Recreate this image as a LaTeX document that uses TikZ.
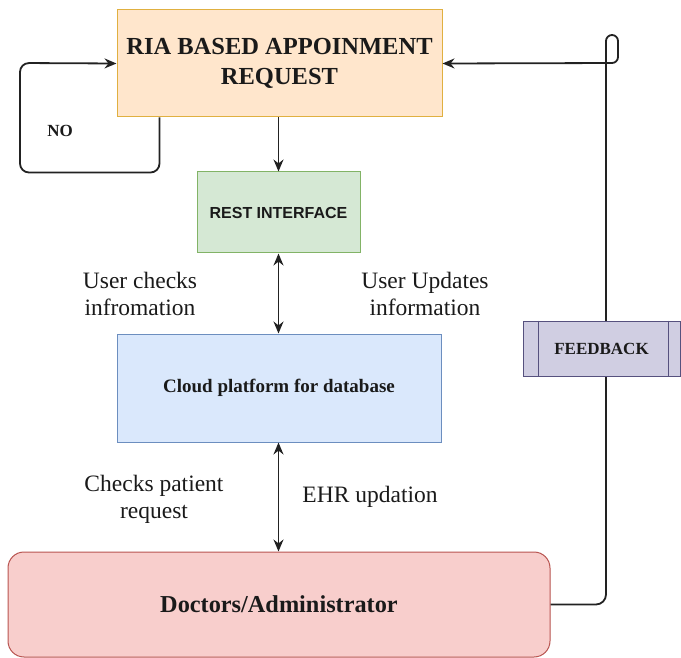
\documentclass[tikz,border=0pt]{standalone}
\usepackage{fontspec}
\setmainfont{Liberation Serif}
\newfontfamily\arialfont{Liberation Sans}
\usetikzlibrary{arrows.meta,calc}

\definecolor{riafill}{HTML}{FFE6CC}
\definecolor{riadraw}{HTML}{E0B040}
\definecolor{restfill}{HTML}{D5E8D4}
\definecolor{restdraw}{HTML}{82B366}
\definecolor{cloudfill}{HTML}{DAE8FC}
\definecolor{clouddraw}{HTML}{6C8EBF}
\definecolor{docfill}{HTML}{F8CECC}
\definecolor{docdraw}{HTML}{B85450}
\definecolor{fbfill}{HTML}{D0CEE2}
\definecolor{fbdraw}{HTML}{56517E}
\definecolor{wire}{HTML}{222222}
\definecolor{ink}{HTML}{1A1A1A}

\tikzset{
  x=1pt, y=-1pt,
  box/.style={draw, line width=1pt, inner sep=0pt, align=center, text=ink},
  wirestyle/.style={draw=wire, line width=1.8pt, -{Stealth[length=12pt,width=10pt]}},
  both/.style={draw=wire, line width=1.8pt, {Stealth[length=12pt,width=10pt]}-{Stealth[length=12pt,width=10pt]}},
  lbl/.style={text=ink, align=center, font=\fontsize{23.5}{27}\selectfont},
}

\begin{document}
\begin{tikzpicture}
\useasboundingbox (0,0) rectangle (681,658);

% boxes
\node[box, fill=riafill, draw=riadraw, minimum width=325pt, minimum height=107pt,
      font=\bfseries\fontsize{24.5}{30}\selectfont] (ria) at (279.5,63.5)
      {RIA BASED APPOINMENT\\REQUEST};
\node[box, fill=restfill, draw=restdraw, minimum width=163pt, minimum height=81pt,
      font=\arialfont\bfseries\fontsize{16}{19}\selectfont] (rest) at (278.5,212.5)
      {REST INTERFACE};
\node[box, fill=cloudfill, draw=clouddraw, minimum width=324pt, minimum height=108pt,
      font=\bfseries\fontsize{19}{23}\selectfont] (cloud) at (279,388)
      {Cloud platform for database};
\node[box, fill=docfill, draw=docdraw, rounded corners=16pt, minimum width=542pt, minimum height=105pt,
      font=\bfseries\fontsize{24.3}{29}\selectfont] (doc) at (279,604.5)
      {Doctors/Administrator};

% connectors between the main boxes, all on the axis of the REST box
\draw[wirestyle] (ria.south -| rest.north) -- (rest.north);
\draw[both] (rest.south) -- (rest.south |- cloud.north);
\draw[both] (rest.south |- cloud.south) -- (rest.south |- doc.north);

% "NO" loop back into the request box
\coordinate (noout) at ($(ria.south west)+(43,0)$);
\draw[wirestyle, rounded corners=9pt] (noout) -- ++(0,55) -| (20,63) -- (ria.west);
\node[text=ink, font=\bfseries\fontsize{17}{19}\selectfont] (no) at (60,131) {NO};

% feedback path from doctors back to the request box
\coordinate (fbx) at (606,0);
\draw[draw=wire, line width=1.8pt, rounded corners=10pt] (doc.east) -| (fbx |- 0,376);
\draw[wirestyle, rounded corners=6pt] (fbx |- 0,321) -- (606,35) -- (618,35) -- (618,63) -- (ria.east);

% feedback process box
\node[box, fill=fbfill, draw=fbdraw, line width=0.9pt, minimum width=157pt, minimum height=55pt,
      font=\bfseries\fontsize{17}{20}\selectfont] (fb) at (601.5,348.5) {FEEDBACK};
\draw[draw=fbdraw, line width=0.9pt] ($(fb.north west)+(16,0)$) -- ($(fb.south west)+(16,0)$);
\draw[draw=fbdraw, line width=0.9pt] ($(fb.north east)+(-12,0)$) -- ($(fb.south east)+(-12,0)$);

% edge labels
\node[lbl] (l1) at (140,294) {User checks\\infromation};
\node[lbl] (l2) at (425,294) {User Updates\\information};
\node[lbl] (l3) at (154,499) {Checks patient\\request};
\node[lbl] (l4) at (370,497) {EHR updation};
\end{tikzpicture}
\end{document}
